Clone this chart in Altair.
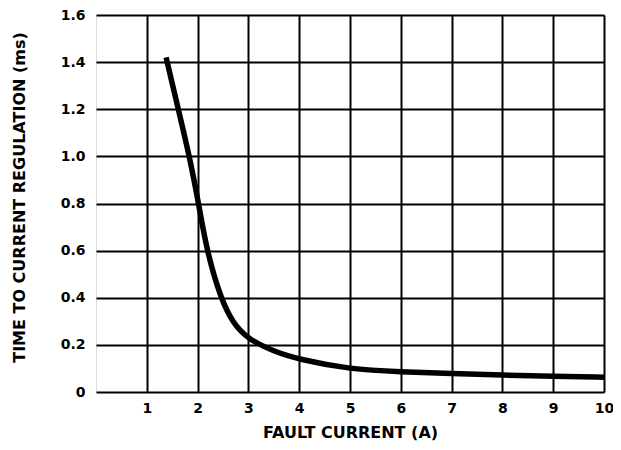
import altair as alt
import pandas as pd

# Curve
fault_current = [1.38, 1.62, 1.84, 2.02, 2.18, 2.45, 2.70, 3.0, 3.5, 4.0, 5.0, 6.0, 7.0, 8.0, 9.0, 10.0]
time_ms = [1.42, 1.20, 1.00, 0.80, 0.60, 0.40, 0.29, 0.224, 0.172, 0.138, 0.096, 0.086, 0.078, 0.072, 0.067, 0.063]

x_ticks = [1, 2, 3, 4, 5, 6, 7, 8, 9, 10]
y_ticks = [0, 0.2, 0.4, 0.6, 0.8, 1.0, 1.2, 1.4, 1.6]

df = pd.DataFrame({"x": fault_current, "y": time_ms})

FONT = "DejaVu Sans"
common = dict(
    grid=True,
    gridColor="black",
    gridWidth=2,
    gridOpacity=1,
    ticks=False,
    domain=False,
    labelFlush=False,
    labelFont=FONT,
    labelFontSize=14,
    labelFontWeight="bold",
    labelColor="black",
    titleFont=FONT,
    titleFontSize=16,
    titleFontWeight="bold",
    titleColor="black",
)

chart = alt.Chart(df).mark_line(
    color="black", strokeWidth=5.5, interpolate="basis", strokeCap="butt"
).encode(
    x=alt.X(
        "x:Q",
        scale=alt.Scale(domain=[0, 10], nice=False, zero=False),
        axis=alt.Axis(
            values=x_ticks,
            title="FAULT CURRENT (A)",
            labelPadding=9,
            titlePadding=9,
            **common,
        ),
    ),
    y=alt.Y(
        "y:Q",
        scale=alt.Scale(domain=[0, 1.6], nice=False),
        axis=alt.Axis(
            values=y_ticks,
            title="TIME TO CURRENT REGULATION (ms)",
            labelExpr="datum.value == 0 ? '0' : format(datum.value, '.1f')",
            labelPadding=11,
            titlePadding=33,
            titleY=182,
            **common,
        ),
    ),
).properties(
    width=508,
    height=377,
    autosize=alt.AutoSizeParams(type="none"),
    padding={"left": 88, "top": 7, "right": 9, "bottom": 50},
).configure_view(
    stroke="black", strokeWidth=2.5
).configure(background="white")

chart.save("out.html", embed_options={"renderer": "svg", "actions": False})
